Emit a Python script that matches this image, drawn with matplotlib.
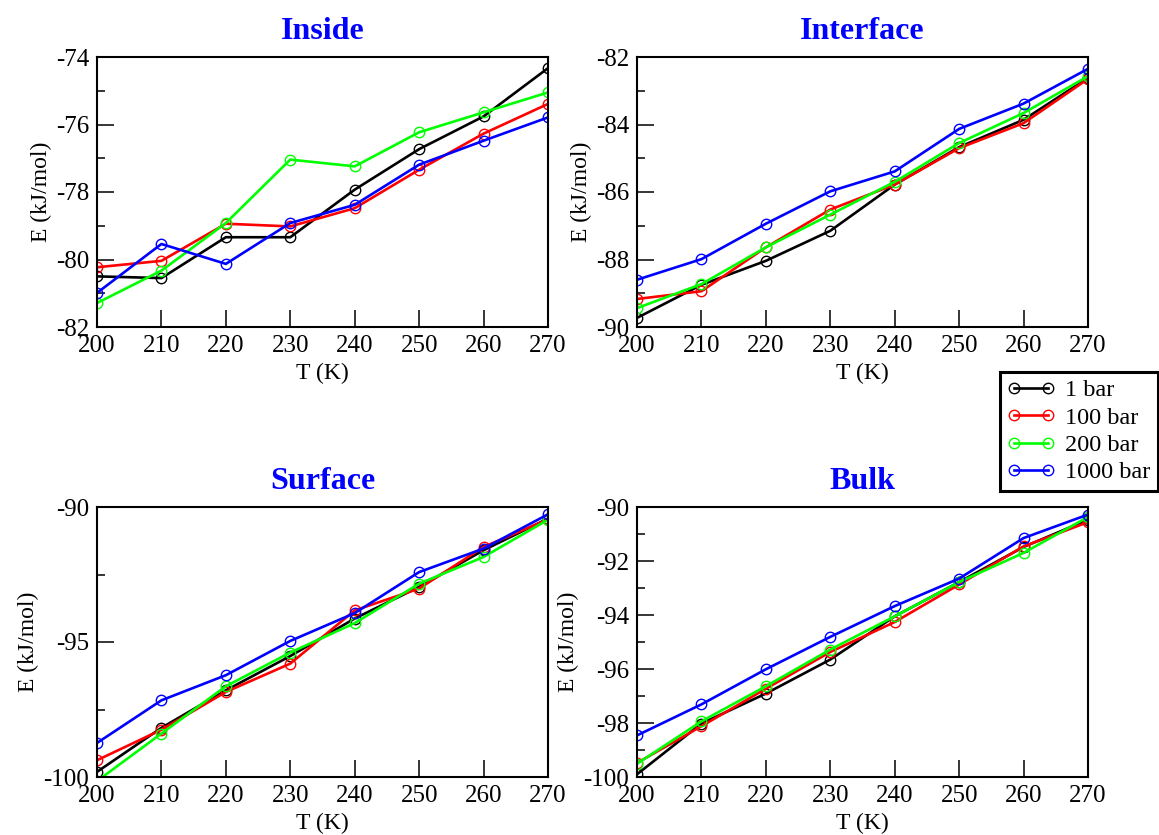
import matplotlib
matplotlib.use("Agg")
import matplotlib.pyplot as plt
from matplotlib.ticker import MultipleLocator

plt.rcParams['font.family'] = ['Liberation Serif', 'DejaVu Serif']
plt.rcParams['axes.unicode_minus'] = False

T = [200, 210, 220, 230, 240, 250, 260, 270]
pressures = ["1 bar", "100 bar", "200 bar", "1000 bar"]
colors = ["#000000", "#ff0000", "#00ff00", "#0000ff"]

inside_1 = [-80.50, -80.55, -79.34, -79.34, -77.93, -76.73, -75.76, -74.33]
inside_100 = [-80.23, -80.04, -78.94, -79.02, -78.48, -77.34, -76.27, -75.39]
inside_200 = [-81.29, -80.33, -78.92, -77.04, -77.24, -76.23, -75.64, -75.05]
inside_1000 = [-80.99, -79.54, -80.13, -78.92, -78.38, -77.19, -76.48, -75.79]

interface_1 = [-89.73, -88.75, -88.04, -87.15, -85.78, -84.67, -83.86, -82.62]
interface_100 = [-89.17, -88.94, -87.64, -86.52, -85.78, -84.70, -83.96, -82.65]
interface_200 = [-89.44, -88.73, -87.64, -86.67, -85.70, -84.55, -83.66, -82.57]
interface_1000 = [-88.60, -87.99, -86.94, -85.98, -85.39, -84.13, -83.38, -82.35]

surface_1 = [-99.81, -98.18, -96.79, -95.52, -94.13, -92.96, -91.60, -90.43]
surface_100 = [-99.38, -98.25, -96.85, -95.80, -93.83, -93.02, -91.48, -90.46]
surface_200 = [-100.15, -98.39, -96.64, -95.39, -94.30, -92.84, -91.85, -90.47]
surface_1000 = [-98.74, -97.16, -96.23, -94.96, -93.93, -92.41, -91.54, -90.27]

bulk_1 = [-99.90, -98.02, -96.91, -95.65, -94.05, -92.78, -91.48, -90.47]
bulk_100 = [-99.48, -98.12, -96.73, -95.37, -94.26, -92.87, -91.46, -90.56]
bulk_200 = [-99.51, -97.94, -96.64, -95.28, -94.05, -92.78, -91.70, -90.37]
bulk_1000 = [-98.46, -97.31, -96.01, -94.81, -93.67, -92.65, -91.15, -90.28]

panels = [
    ("Inside", [inside_1, inside_100, inside_200, inside_1000], (-82, -74), 2, 1),
    ("Interface", [interface_1, interface_100, interface_200, interface_1000], (-90, -82), 2, 1),
    ("Surface", [surface_1, surface_100, surface_200, surface_1000], (-100, -90), 5, 2.5),
    ("Bulk", [bulk_1, bulk_100, bulk_200, bulk_1000], (-100, -90), 2, 1),
]

W, H = 1159, 835
fig = plt.figure(figsize=(W / 100, H / 100), dpi=100)

boxes = [(97, 57), (637, 57), (97, 507), (637, 507)]
aw, ah = 451, 270

handles = []
for (title, series, ylim, major, minor), (x0, y0) in zip(panels, boxes):
    ax = fig.add_axes([x0 / W, 1 - (y0 + ah) / H, aw / W, ah / H])
    for s, c, lab in zip(series, colors, pressures):
        h, = ax.plot(T, s, color=c, lw=1.9, marker='o', ms=7.5, mfc='none',
                     mec=c, mew=1.0, label=lab)
        if title == "Inside":
            handles.append(h)
    ax.set_xlim(200, 270)
    ax.set_ylim(*ylim)
    ax.xaxis.set_major_locator(MultipleLocator(10))
    ax.yaxis.set_major_locator(MultipleLocator(major))
    ax.yaxis.set_minor_locator(MultipleLocator(minor))
    ax.tick_params(axis='both', which='major', direction='in', length=12,
                   width=1.1, top=False, right=False, labelsize=18)
    ax.tick_params(axis='y', which='minor', direction='in', length=6,
                   width=1.1, right=False)
    ax.tick_params(axis='x', which='major', pad=6)
    ax.tick_params(axis='y', which='major', pad=5.5)
    for sp in ax.spines.values():
        sp.set_linewidth(1.5)
    ax.set_xlabel("T (K)", fontsize=17, labelpad=4)
    ax.set_ylabel("E (kJ/mol)", fontsize=17, labelpad=3)
    ax.set_title(title, fontsize=23, fontweight='bold', color='#0000ff', pad=13)

leg = fig.legend(handles=handles, labels=pressures, loc='upper right',
                 bbox_to_anchor=(1158 / W, 1 - 372 / H), fontsize=17.5,
                 numpoints=2, handlelength=2.0, fancybox=False, framealpha=1,
                 edgecolor='black', borderpad=0.3, labelspacing=0.22,
                 handletextpad=0.4, borderaxespad=0)
leg.get_frame().set_linewidth(2.2)

fig.savefig("out.png", dpi=100)
